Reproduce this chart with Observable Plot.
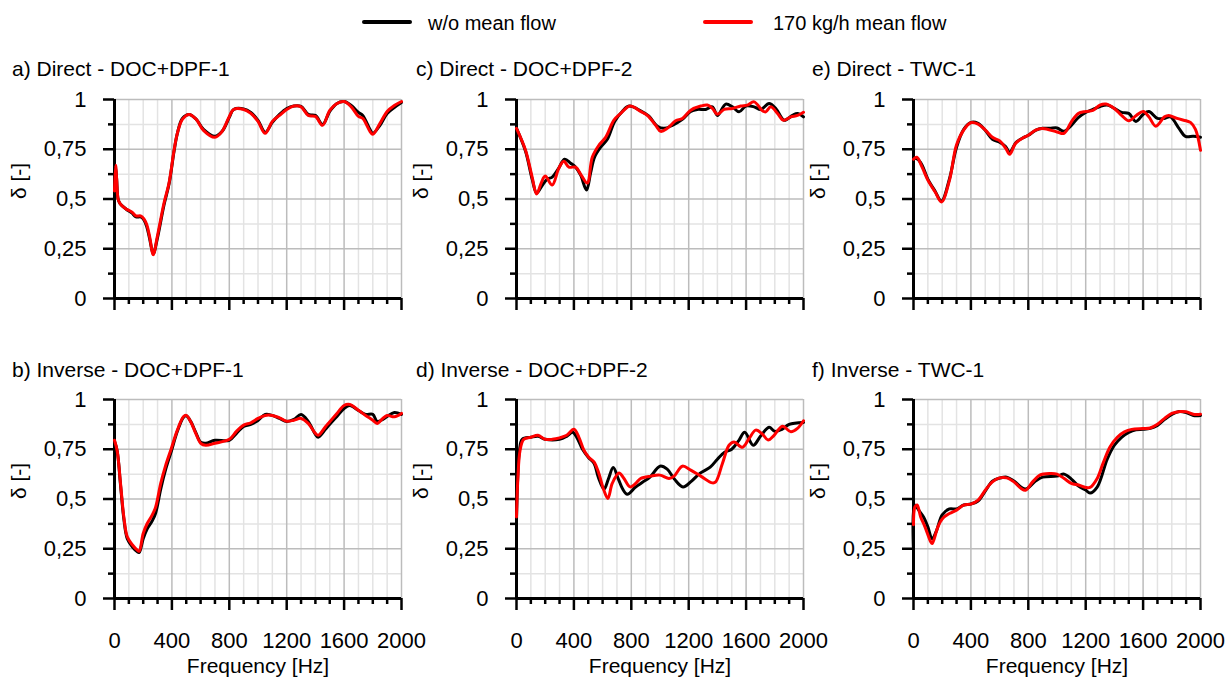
<!DOCTYPE html>
<html>
<head>
<meta charset="utf-8">
<script src="https://cdn.jsdelivr.net/npm/d3@7"></script>
<script src="https://cdn.jsdelivr.net/npm/@observablehq/plot@0.6"></script>
<style>
  html, body { margin: 0; padding: 0; background: #fff; }
  #root { position: relative; width: 1231px; height: 682px; overflow: hidden; font-family: "Liberation Sans", Arial, sans-serif; color: #000; }
  .title { position: absolute; font-size: 21px; line-height: 21px; white-space: nowrap; }
  .panel { position: absolute; }
  .sw { position: absolute; height: 4px; border-radius: 2px; }
  .lg { position: absolute; font-size: 20px; line-height: 20px; white-space: nowrap; }
</style>
</head>
<body>
<div id="root"></div>
<script>
// ---- Series names (legend) ----
const seriesNames = ["w/o mean flow", "170 kg/h mean flow"];
const seriesColors = ["#000000", "#ff0000"];

// ---- Panel titles ----
const titles = ["a) Direct - DOC+DPF-1", "c) Direct - DOC+DPF-2", "e) Direct - TWC-1",
                "b) Inverse - DOC+DPF-1", "d) Inverse - DOC+DPF-2", "f) Inverse - TWC-1"];

// ---- Axis ticks ----
const xMajor = [0, 400, 800, 1200, 1600, 2000];
const xMinor = [100, 200, 300, 500, 600, 700, 900, 1000, 1100, 1300, 1400, 1500, 1700, 1800, 1900];
const yMajor = [0, 0.25, 0.5, 0.75, 1];
const yMinor = [0.125, 0.375, 0.625, 0.875];
const xLabel = "Frequency [Hz]";
const yLabel = "δ [-]";

// ---- a) Direct - DOC+DPF-1 ----
const aHz    = [0, 8, 15, 25, 40, 80, 120, 150, 182, 205, 225, 245, 270, 298, 345, 380, 415, 438, 473, 520, 570, 620, 700, 750, 800, 830, 900, 950, 1000, 1050, 1100, 1150, 1200, 1250, 1300, 1350, 1400, 1450, 1500, 1550, 1600, 1650, 1700, 1730, 1780, 1800, 1850, 1900, 1950, 2000];
const aRed   = [0.54, 0.67, 0.6, 0.5, 0.475, 0.45, 0.435, 0.415, 0.415, 0.4, 0.37, 0.31, 0.22, 0.31, 0.48, 0.58, 0.745, 0.83, 0.9, 0.925, 0.9, 0.845, 0.81, 0.84, 0.915, 0.95, 0.95, 0.93, 0.89, 0.83, 0.89, 0.92, 0.95, 0.967, 0.963, 0.92, 0.915, 0.87, 0.945, 0.98, 0.99, 0.963, 0.915, 0.905, 0.84, 0.825, 0.88, 0.94, 0.97, 0.99];
const aBlack = [0.56, 0.66, 0.6, 0.5, 0.475, 0.45, 0.43, 0.41, 0.41, 0.395, 0.36, 0.3, 0.225, 0.3, 0.47, 0.575, 0.74, 0.83, 0.905, 0.925, 0.9, 0.85, 0.815, 0.84, 0.91, 0.95, 0.953, 0.935, 0.895, 0.835, 0.885, 0.925, 0.955, 0.967, 0.965, 0.925, 0.92, 0.875, 0.94, 0.98, 0.99, 0.97, 0.935, 0.92, 0.85, 0.83, 0.87, 0.93, 0.96, 0.985];

// ---- c) Direct - DOC+DPF-2 ----
const cRedHz   = [0, 63, 109, 140, 172, 200, 249, 295, 330, 365, 412, 451, 493, 528, 574, 621, 679, 726, 791, 865, 912, 970, 1005, 1051, 1109, 1156, 1214, 1284, 1330, 1365, 1400, 1447, 1505, 1563, 1609, 1656, 1714, 1737, 1772, 1819, 1860, 1912, 1958, 2000];
const cRed     = [0.855, 0.745, 0.61, 0.525, 0.58, 0.615, 0.57, 0.655, 0.69, 0.66, 0.66, 0.62, 0.58, 0.71, 0.77, 0.81, 0.896, 0.93, 0.967, 0.94, 0.92, 0.87, 0.84, 0.855, 0.893, 0.905, 0.946, 0.967, 0.972, 0.955, 0.926, 0.95, 0.955, 0.967, 0.972, 0.988, 0.943, 0.938, 0.963, 0.93, 0.896, 0.913, 0.92, 0.936];
const cBlackHz = [0, 63, 109, 140, 172, 214, 249, 290, 335, 377, 412, 447, 488, 516, 544, 586, 633, 684, 737, 784, 865, 923, 981, 1028, 1086, 1156, 1214, 1260, 1319, 1365, 1400, 1458, 1505, 1551, 1598, 1656, 1702, 1760, 1807, 1865, 1923, 1958, 2000];
const cBlack   = [0.855, 0.74, 0.6, 0.53, 0.56, 0.6, 0.61, 0.65, 0.7, 0.68, 0.66, 0.62, 0.545, 0.63, 0.71, 0.76, 0.8, 0.89, 0.94, 0.967, 0.943, 0.916, 0.866, 0.855, 0.87, 0.9, 0.94, 0.95, 0.95, 0.963, 0.92, 0.977, 0.963, 0.938, 0.967, 0.963, 0.95, 0.98, 0.955, 0.896, 0.92, 0.93, 0.913];

// ---- e) Direct - TWC-1 ----
const eRedHz   = [0, 23, 60, 100, 151, 195, 251, 299, 348, 399, 450, 501, 550, 601, 643, 670, 712, 770, 800, 851, 900, 1000, 1049, 1100, 1148, 1199, 1250, 1299, 1341, 1399, 1450, 1501, 1552, 1601, 1640, 1689, 1749, 1779, 1837, 1900, 1930, 1965, 2000];
const eRed     = [0.7, 0.71, 0.66, 0.595, 0.535, 0.485, 0.595, 0.77, 0.845, 0.883, 0.876, 0.846, 0.81, 0.792, 0.755, 0.725, 0.78, 0.81, 0.82, 0.846, 0.854, 0.837, 0.83, 0.888, 0.93, 0.94, 0.945, 0.972, 0.977, 0.955, 0.92, 0.893, 0.92, 0.94, 0.913, 0.866, 0.913, 0.92, 0.905, 0.893, 0.885, 0.85, 0.745];
const eBlackHz = [0, 30, 60, 100, 150, 195, 250, 300, 350, 400, 450, 500, 550, 600, 640, 670, 715, 770, 800, 850, 900, 950, 1000, 1050, 1100, 1150, 1200, 1250, 1300, 1350, 1400, 1450, 1500, 1550, 1600, 1640, 1700, 1745, 1790, 1850, 1895, 1950, 2000];
const eBlack   = [0.705, 0.7, 0.67, 0.6, 0.54, 0.49, 0.6, 0.76, 0.85, 0.885, 0.88, 0.845, 0.8, 0.785, 0.765, 0.735, 0.785, 0.81, 0.82, 0.845, 0.855, 0.855, 0.857, 0.84, 0.87, 0.91, 0.935, 0.95, 0.965, 0.972, 0.955, 0.935, 0.93, 0.89, 0.925, 0.94, 0.905, 0.905, 0.913, 0.855, 0.815, 0.815, 0.81];

// ---- b) Inverse - DOC+DPF-1 ----
const bHz    = [0, 19, 42, 65, 89, 124, 159, 172, 200, 228, 263, 287, 322, 357, 396, 438, 480, 500, 531, 566, 601, 636, 700, 800, 850, 900, 950, 1000, 1050, 1100, 1150, 1200, 1250, 1300, 1350, 1400, 1420, 1470, 1500, 1550, 1600, 1640, 1700, 1750, 1800, 1830, 1870, 1900, 1950, 2000];
const bRed   = [0.795, 0.74, 0.578, 0.41, 0.31, 0.27, 0.243, 0.238, 0.327, 0.377, 0.42, 0.46, 0.578, 0.67, 0.754, 0.846, 0.913, 0.92, 0.888, 0.83, 0.78, 0.77, 0.78, 0.8, 0.84, 0.871, 0.883, 0.905, 0.92, 0.92, 0.908, 0.891, 0.896, 0.905, 0.88, 0.83, 0.82, 0.863, 0.888, 0.93, 0.97, 0.975, 0.946, 0.92, 0.896, 0.88, 0.905, 0.92, 0.913, 0.93];
const bBlack = [0.79, 0.74, 0.57, 0.4, 0.3, 0.26, 0.235, 0.232, 0.3, 0.35, 0.39, 0.43, 0.55, 0.65, 0.74, 0.84, 0.91, 0.918, 0.89, 0.835, 0.785, 0.78, 0.795, 0.795, 0.83, 0.865, 0.875, 0.895, 0.925, 0.92, 0.905, 0.89, 0.9, 0.925, 0.89, 0.825, 0.81, 0.85, 0.875, 0.915, 0.955, 0.97, 0.945, 0.925, 0.925, 0.89, 0.9, 0.915, 0.935, 0.925];

// ---- d) Inverse - DOC+DPF-2 ----
const dRedHz   = [0, 10, 25, 50, 100, 150, 200, 250, 300, 350, 400, 435, 470, 505, 540, 574, 609, 637, 667, 714, 749, 791, 830, 865, 935, 1000, 1063, 1098, 1156, 1214, 1284, 1365, 1388, 1435, 1481, 1516, 1574, 1621, 1667, 1714, 1753, 1795, 1853, 1912, 1958, 2000];
const dRed     = [0.41, 0.61, 0.745, 0.8, 0.81, 0.82, 0.8, 0.8, 0.807, 0.82, 0.85, 0.81, 0.745, 0.708, 0.687, 0.628, 0.544, 0.503, 0.578, 0.631, 0.603, 0.561, 0.578, 0.603, 0.615, 0.62, 0.603, 0.615, 0.665, 0.645, 0.615, 0.581, 0.586, 0.678, 0.77, 0.787, 0.76, 0.804, 0.846, 0.826, 0.796, 0.82, 0.866, 0.838, 0.855, 0.893];
const dBlackHz = [0, 8, 20, 40, 100, 150, 200, 300, 350, 390, 420, 460, 500, 540, 570, 610, 640, 674, 710, 740, 772, 830, 880, 930, 1000, 1050, 1100, 1160, 1220, 1280, 1350, 1400, 1450, 1500, 1550, 1590, 1650, 1700, 1760, 1800, 1850, 1900, 2000];
const dBlack   = [0.39, 0.6, 0.74, 0.8, 0.81, 0.815, 0.8, 0.8, 0.815, 0.835, 0.81, 0.75, 0.71, 0.68, 0.61, 0.55, 0.6, 0.658, 0.6, 0.55, 0.524, 0.56, 0.585, 0.61, 0.665, 0.65, 0.6, 0.56, 0.59, 0.63, 0.66, 0.7, 0.735, 0.75, 0.795, 0.835, 0.77, 0.815, 0.86, 0.84, 0.85, 0.875, 0.885];

// ---- f) Inverse - TWC-1 ----
const fRedHz   = [0, 10, 25, 50, 80, 120, 130, 170, 200, 250, 300, 350, 400, 450, 500, 550, 600, 650, 700, 750, 780, 830, 880, 950, 1000, 1050, 1100, 1150, 1200, 1230, 1280, 1320, 1370, 1420, 1470, 1520, 1600, 1650, 1700, 1750, 1800, 1860, 1900, 1950, 2000];
const fRed     = [0.37, 0.46, 0.47, 0.41, 0.36, 0.285, 0.276, 0.36, 0.4, 0.427, 0.444, 0.469, 0.474, 0.494, 0.544, 0.586, 0.606, 0.606, 0.586, 0.553, 0.544, 0.586, 0.62, 0.628, 0.625, 0.603, 0.578, 0.57, 0.558, 0.558, 0.603, 0.678, 0.762, 0.81, 0.837, 0.85, 0.854, 0.857, 0.876, 0.905, 0.93, 0.94, 0.938, 0.926, 0.926];
const fBlackHz = [0, 8, 40, 70, 100, 130, 160, 200, 250, 300, 350, 400, 450, 500, 550, 600, 650, 700, 780, 850, 900, 1000, 1050, 1100, 1150, 1200, 1230, 1280, 1350, 1400, 1450, 1500, 1550, 1600, 1650, 1700, 1750, 1800, 1850, 1900, 1950, 2000];
const fBlack   = [0.24, 0.47, 0.44, 0.41, 0.36, 0.3, 0.34, 0.42, 0.45, 0.45, 0.47, 0.475, 0.49, 0.54, 0.59, 0.605, 0.61, 0.59, 0.55, 0.59, 0.61, 0.615, 0.625, 0.6, 0.565, 0.545, 0.53, 0.56, 0.7, 0.77, 0.81, 0.835, 0.848, 0.85, 0.855, 0.87, 0.9, 0.925, 0.94, 0.935, 0.92, 0.92];

const zip = (hz, v) => hz.map((f, i) => ({f, v: v[i]}));

const panels = [
  {title: titles[0], black: zip(aHz, aBlack), red: zip(aHz, aRed), col: 0, row: 0},
  {title: titles[1], black: zip(cBlackHz, cBlack), red: zip(cRedHz, cRed), col: 1, row: 0},
  {title: titles[2], black: zip(eBlackHz, eBlack), red: zip(eRedHz, eRed), col: 2, row: 0},
  {title: titles[3], black: zip(bHz, bBlack), red: zip(bHz, bRed), col: 0, row: 1},
  {title: titles[4], black: zip(dBlackHz, dBlack), red: zip(dRedHz, dRed), col: 1, row: 1},
  {title: titles[5], black: zip(fBlackHz, fBlack), red: zip(fRedHz, fRed), col: 2, row: 1}
];

// ---- layout ----
const plotLeft = [114, 516, 913];
const plotTop = [99, 399];
const titleLeft = [12, 416, 812];
const titleTop = [58, 359];
const ML = 100, MR = 20, MT = 10, PW = 287, PH = 199;

const root = document.getElementById("root");
const fmtY = d => String(d).replace(".", ",");
const blank = () => "";

for (const p of panels) {
  const showX = p.row === 1;
  const MB = showX ? 80 : 20;
  const svg = Plot.plot({
    width: ML + PW + MR,
    height: MT + PH + MB,
    marginLeft: ML, marginRight: MR, marginTop: MT, marginBottom: MB,
    x: {domain: [0, 2000]},
    y: {domain: [0, 1]},
    style: {fontFamily: '"Liberation Sans", Arial, sans-serif', fontSize: "22px", color: "#000", background: "transparent", overflow: "visible"},
    marks: [
      Plot.ruleX(xMinor, {stroke: "#e3e3e3", strokeWidth: 1.5}),
      Plot.ruleY(yMinor, {stroke: "#e3e3e3", strokeWidth: 1.5}),
      Plot.ruleX(xMajor, {stroke: "#bcbcbc", strokeWidth: 1.5}),
      Plot.ruleY(yMajor, {stroke: "#bcbcbc", strokeWidth: 1.5}),
      Plot.axisY(yMinor, {tickSize: 6, tickFormat: blank, strokeWidth: 2.5, label: null}),
      Plot.axisY(yMajor, {tickSize: 11, tickPadding: 17, tickFormat: fmtY, strokeWidth: 2.5, fontSize: 22, label: null}),
      Plot.axisX(xMinor, {tickSize: 6, tickFormat: blank, strokeWidth: 2.5, label: null}),
      Plot.axisX(xMajor, {tickSize: 12, tickPadding: 22, tickFormat: showX ? (d => String(d)) : blank, strokeWidth: 2.5, fontSize: 22, label: null}),
      Plot.ruleX([0], {stroke: "#000", strokeWidth: 3}),
      Plot.ruleY([0], {stroke: "#000", strokeWidth: 3}),
      Plot.line(p.black, {x: "f", y: "v", stroke: seriesColors[0], strokeWidth: 3, curve: "catmull-rom"}),
      Plot.line(p.red, {x: "f", y: "v", stroke: seriesColors[1], strokeWidth: 3, curve: "catmull-rom"}),
      Plot.text([yLabel], {frameAnchor: "left", dx: -95, rotate: -90, fontSize: 21}),
      showX ? Plot.text([xLabel], {frameAnchor: "bottom", lineAnchor: "middle", dy: 68, fontSize: 21}) : null
    ]
  });
  const wrap = document.createElement("div");
  wrap.className = "panel";
  wrap.style.left = (plotLeft[p.col] - ML) + "px";
  wrap.style.top = (plotTop[p.row] - MT) + "px";
  wrap.appendChild(svg);
  root.appendChild(wrap);

  const t = document.createElement("div");
  t.className = "title";
  t.textContent = p.title;
  t.style.left = titleLeft[p.col] + "px";
  t.style.top = titleTop[p.row] + "px";
  root.appendChild(t);
}

// ---- legend ----
const legendSw = [362, 703];
const legendTx = [428, 773];
seriesNames.forEach((name, i) => {
  const s = document.createElement("div");
  s.className = "sw";
  s.style.left = legendSw[i] + "px";
  s.style.top = "20px";
  s.style.width = "50px";
  s.style.background = seriesColors[i];
  root.appendChild(s);
  const t = document.createElement("div");
  t.className = "lg";
  t.textContent = name;
  t.style.left = legendTx[i] + "px";
  t.style.top = "13px";
  root.appendChild(t);
});
</script>
</body>
</html>
